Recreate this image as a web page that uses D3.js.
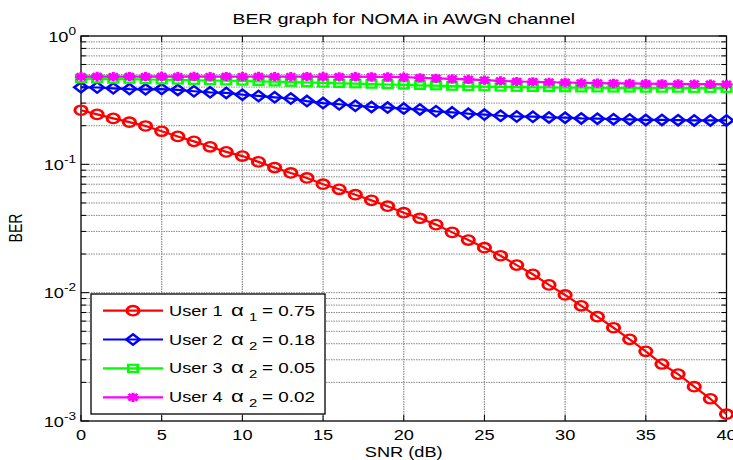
<!DOCTYPE html>
<html>
<head>
<meta charset="utf-8">
<script src="https://cdn.jsdelivr.net/npm/d3@7"></script>
<style>
  html, body { margin: 0; padding: 0; background: #fff; }
  svg { display: block; }
  text { font-family: "Liberation Sans", Arial, Helvetica, sans-serif; fill: #000; }
</style>
</head>
<body>
<svg id="chart" width="733" height="460"></svg>
<script>
// ---------- data ----------
const snr = [0,1,2,3,4,5,6,7,8,9,10,11,12,13,14,15,16,17,18,19,20,21,22,23,24,25,26,27,28,29,30,31,32,33,34,35,36,37,38,39,40];
const berUser1 = [0.264,0.245,0.228,0.213,0.199,0.181,0.165,0.151,0.137,0.125,0.116,0.1045,0.0943,0.0857,0.0783,0.0700,0.0639,0.0580,0.0524,0.0472,0.0420,0.0380,0.0339,0.0295,0.0257,0.0224,0.0194,0.0164,0.0139,0.0115,0.0096,0.0079,0.0065,0.00533,0.00433,0.00349,0.00278,0.00232,0.00185,0.00149,0.00113];
const berUser2 = [0.398,0.397,0.391,0.386,0.384,0.386,0.380,0.371,0.364,0.360,0.349,0.341,0.333,0.326,0.311,0.300,0.294,0.286,0.280,0.277,0.272,0.268,0.259,0.254,0.248,0.244,0.239,0.236,0.235,0.232,0.231,0.228,0.227,0.225,0.224,0.222,0.222,0.221,0.220,0.220,0.220];
const berUser3 = [0.465,0.464,0.462,0.461,0.458,0.456,0.455,0.452,0.450,0.448,0.446,0.443,0.440,0.437,0.434,0.431,0.428,0.425,0.422,0.419,0.416,0.413,0.410,0.407,0.405,0.403,0.401,0.399,0.398,0.397,0.396,0.395,0.395,0.394,0.394,0.393,0.393,0.393,0.392,0.392,0.392];
const berUser4 = [0.482,0.484,0.482,0.483,0.482,0.484,0.482,0.484,0.482,0.483,0.482,0.484,0.482,0.482,0.483,0.482,0.481,0.482,0.481,0.480,0.478,0.473,0.468,0.463,0.459,0.453,0.447,0.442,0.440,0.436,0.434,0.431,0.430,0.428,0.427,0.425,0.424,0.423,0.422,0.421,0.420];
const xTicks = [0,5,10,15,20,25,30,35,40];
const yDecades = [1e-3,1e-2,1e-1,1];
const yDecadeExp = ["-3","-2","-1","0"];
const legendUsers = ["User 1", "User 2", "User 3", "User 4"];
const legendSubs = ["1","2","2","2"];
const legendVals = ["= 0.75", "= 0.18", "= 0.05", "= 0.02"];
const seriesColors = ["#ff0000","#0000ff","#00ff00","#ff00ff"];
const seriesMarkers = ["circle","diamond","square","star"];
const titleText = "BER graph for NOMA in AWGN channel";
const xLabel = "SNR (dB)";
const yLabel = "BER";

// ---------- layout ----------
const SX = 1.3;           // horizontal stretch of the original bitmap
const pL = 81, pR = 726.5, pT = 36, pB = 421;
const svg = d3.select("#chart");
const x = d3.scaleLinear().domain([0, 40]).range([pL, pR]);
const y = d3.scaleLog().domain([1e-3, 1]).range([pB, pT]);

function stext(g, tx, ty, anchor, size) {
  return g.append("text")
    .attr("transform", `translate(${tx},${ty}) scale(${SX},1)`)
    .attr("text-anchor", anchor)
    .style("font-size", size + "px");
}

// grid
const grid = svg.append("g");
const minorVals = [];
[1e-3,1e-2,1e-1].forEach(d => { for (let k = 1; k <= 9; k++) minorVals.push(d * k); });
grid.selectAll("line.hg").data(minorVals.filter(v => v > 1e-3)).enter().append("line")
  .attr("x1", pL).attr("x2", pR)
  .attr("y1", d => y(d)).attr("y2", d => y(d))
  .attr("stroke", "#8a8a8a").attr("stroke-width", 1).attr("stroke-dasharray", "1.5,1");
grid.selectAll("line.vg").data(xTicks.slice(1, -1)).enter().append("line")
  .attr("x1", d => x(d)).attr("x2", d => x(d))
  .attr("y1", pT).attr("y2", pB)
  .attr("stroke", "#8a8a8a").attr("stroke-width", 1.2).attr("stroke-dasharray", "1.5,1");

// ticks (inward, on all four sides)
const tk = svg.append("g").attr("stroke", "#000").attr("stroke-width", 1);
xTicks.forEach(t => {
  tk.append("line").attr("x1", x(t)).attr("x2", x(t)).attr("y1", pB).attr("y2", pB - 6);
  tk.append("line").attr("x1", x(t)).attr("x2", x(t)).attr("y1", pT).attr("y2", pT + 6);
});
minorVals.concat([1]).forEach(v => {
  const major = yDecades.includes(v);
  const len = major ? 8 : 5;
  tk.append("line").attr("x1", pL).attr("x2", pL + len).attr("y1", y(v)).attr("y2", y(v));
  tk.append("line").attr("x1", pR).attr("x2", pR - len).attr("y1", y(v)).attr("y2", y(v));
});

// axes box
svg.append("rect").attr("x", pL).attr("y", pT)
  .attr("width", pR - pL).attr("height", pB - pT)
  .attr("fill", "none").attr("stroke", "#000").attr("stroke-width", 1.3);

// tick labels
xTicks.forEach(t => { stext(svg, x(t), 439.5, "middle", 14).text(t); });
yDecades.forEach((v, i) => {
  const t = stext(svg, 76, y(v) + 5.5, "end", 14);
  t.append("tspan").text("10");
  t.append("tspan").attr("dy", -7).style("font-size", "10.5px").text(yDecadeExp[i]);
});

// labels
stext(svg, (pL + pR) / 2, 24, "middle", 14.9).text(titleText);
stext(svg, (pL + pR) / 2, 457, "middle", 14).text(xLabel);
svg.append("text")
  .attr("transform", `translate(22,228) scale(${SX},1) rotate(-90)`)
  .attr("text-anchor", "middle").style("font-size", "14px").text(yLabel);

// markers (drawn in a horizontally stretched frame, like the original bitmap)
function drawMarker(g0, kind, cx, cy, color) {
  const g = g0.append("g").attr("transform", `translate(${cx},${cy}) scale(${SX},1)`)
    .attr("fill", "none").attr("stroke", color);
  if (kind === "circle") {
    g.append("circle").attr("r", 4.7).attr("stroke-width", 2.3);
  } else if (kind === "diamond") {
    const s = 5.2;
    g.append("path").attr("d", `M0,${-s}L${s},0L0,${s}L${-s},0Z`).attr("stroke-width", 2.2);
  } else if (kind === "square") {
    const s = 3.6;
    g.append("rect").attr("x", -s).attr("y", -s).attr("width", 2 * s).attr("height", 2 * s)
      .attr("stroke-width", 2.2);
  } else {
    const s = 4.6, d = 3.4;
    g.append("path").attr("d",
      `M${-s},0L${s},0M0,${-s}L0,${s}M${-d},${-d}L${d},${d}M${-d},${d}L${d},${-d}`)
      .attr("stroke-width", 2.4);
  }
}

const allSeries = [berUser1, berUser2, berUser3, berUser4];
const line = d3.line().x(d => x(d[0])).y(d => y(d[1]));
const plot = svg.append("g");
allSeries.forEach((ser, i) => {
  const pts = snr.map((s, j) => [s, ser[j]]);
  plot.append("path").attr("d", line(pts)).attr("fill", "none")
    .attr("stroke", seriesColors[i]).attr("stroke-width", 2.2);
  const mg = plot.append("g");
  pts.forEach(p => drawMarker(mg, seriesMarkers[i], x(p[0]), y(p[1]), seriesColors[i]));
});

// legend
const lg = svg.append("g");
lg.append("rect").attr("x", 91).attr("y", 294).attr("width", 234).attr("height", 120)
  .attr("fill", "#fff").attr("stroke", "#000").attr("stroke-width", 1.3);
const rowY = [310.7, 339.5, 368.4, 397.3];
legendUsers.forEach((u, i) => {
  lg.append("line").attr("x1", 103).attr("x2", 163).attr("y1", rowY[i]).attr("y2", rowY[i])
    .attr("stroke", seriesColors[i]).attr("stroke-width", 2.2);
  drawMarker(lg, seriesMarkers[i], 133, rowY[i], seriesColors[i]);
  stext(lg, 169, rowY[i] + 5, "start", 14).text(u);
  stext(lg, 231, rowY[i] + 5, "start", 17).text("\u03B1");
  stext(lg, 249, rowY[i] + 10, "start", 11.5).text(legendSubs[i]);
  stext(lg, 262, rowY[i] + 5, "start", 14.5).text(legendVals[i]);
});
</script>
</body>
</html>
